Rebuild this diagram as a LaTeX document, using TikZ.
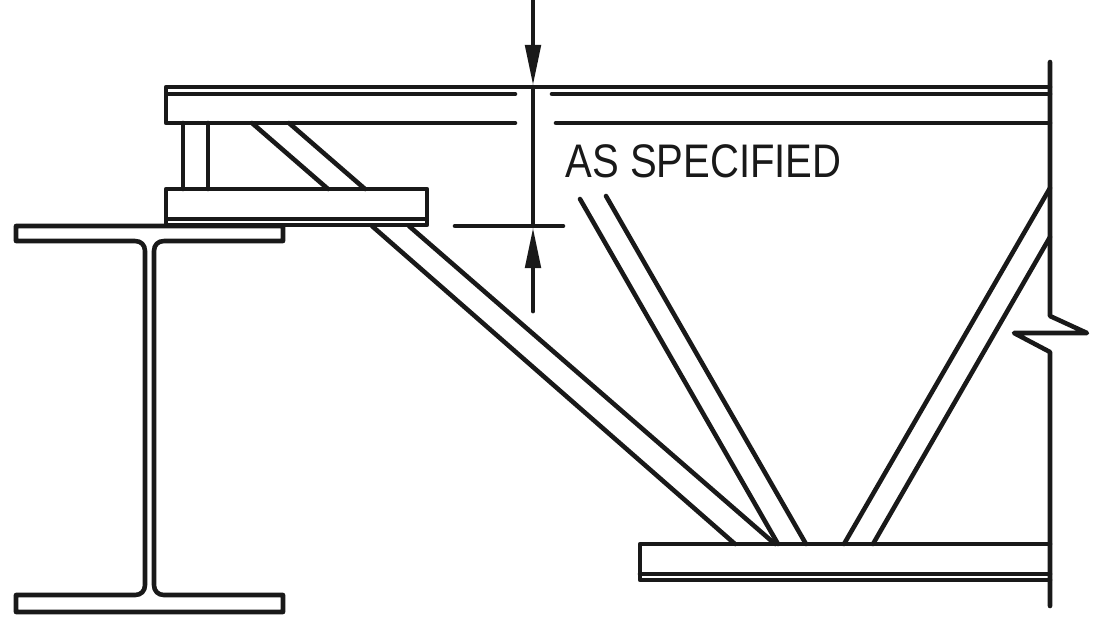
\documentclass[tikz,border=0pt]{standalone}
\usepackage{fontspec}
\setmainfont{Liberation Sans}
\usetikzlibrary{arrows.meta}
\tikzset{steel/.style={line width=1.3pt, line cap=round, line join=round, black!90}}
\tikzset{dimtip/.style={-{Triangle[length=0.41cm, width=0.15cm]}, line width=1.4pt, line cap=round, black!90}}
\begin{document}
\begin{tikzpicture} [x=0.01cm, y=-0.01cm]
\useasboundingbox (0, 0) rectangle (1097, 626);
% top chord
\draw[steel] (166, 94) -- (166, 87) -- (1050, 87);
\draw[steel] (515, 94) -- (166, 94) -- (166, 123) -- (515, 123);
\draw[steel] (552, 94) -- (1050, 94);
\draw[steel] (556, 123) -- (1050, 123);
% seat
\draw[steel] (166, 189) rectangle (427, 219);
\draw[steel] (166, 225) -- (427, 225) -- (427, 219);
\draw[steel] (166, 219) -- (166, 225);
\draw[steel] (183, 123) -- (183, 189);
\draw[steel] (208, 123) -- (208, 189);
\draw[steel] (252, 123) -- (328, 189);
\draw[steel] (289, 123) -- (365, 189);
% i beam
\draw[steel] (283, 226) -- (16, 226) -- (16, 241) -- (135, 241) .. controls (141, 241) and (145, 245) .. (145, 251) -- (145, 585) .. controls (145, 591) and (141, 595) .. (135, 595) -- (16, 595) -- (16, 612) -- (283, 612) -- (283, 595) -- (164, 595) .. controls (158, 595) and (154, 591) .. (154, 585) -- (154, 251) .. controls (154, 245) and (158, 241) .. (164, 241) -- (283, 241) -- cycle;
% web members
\draw[steel] (372, 226) -- (735, 544);
\draw[steel] (409, 226) -- (775, 544);
\draw[steel] (580, 199) -- (778, 544);
\draw[steel] (606, 196) -- (806, 544);
\draw[steel] (1050, 188) -- (844, 544);
\draw[steel] (1050, 237) -- (873, 544);
% bottom chord
\draw[steel] (1050, 544) -- (640, 544) -- (640, 580) -- (1050, 580);
\draw[steel] (640, 574) -- (1050, 574);
% wall
\draw[steel] (1050, 62) -- (1050, 316) -- (1087, 333) -- (1014, 333) -- (1050, 352) -- (1050, 606);
% dimension
\draw[steel] (455, 226) -- (563, 226);
\draw[steel] (533, 87) -- (533, 226);
\coordinate (toptail) at (533, 1);
\coordinate (toptip) at (533, 86);
\coordinate (lowtail) at (533, 311);
\coordinate (lowtip) at (533, 227);
\draw[dimtip] (toptail) -- (toptip);
\draw[dimtip] (lowtail) -- (lowtip);
\node[anchor=base west, inner sep=0, font=\fontsize{13.4pt}{15pt}\selectfont, xscale=0.85, black!90] (spec) at (565, 177) {AS SPECIFIED};
\end{tikzpicture}
\end{document}
